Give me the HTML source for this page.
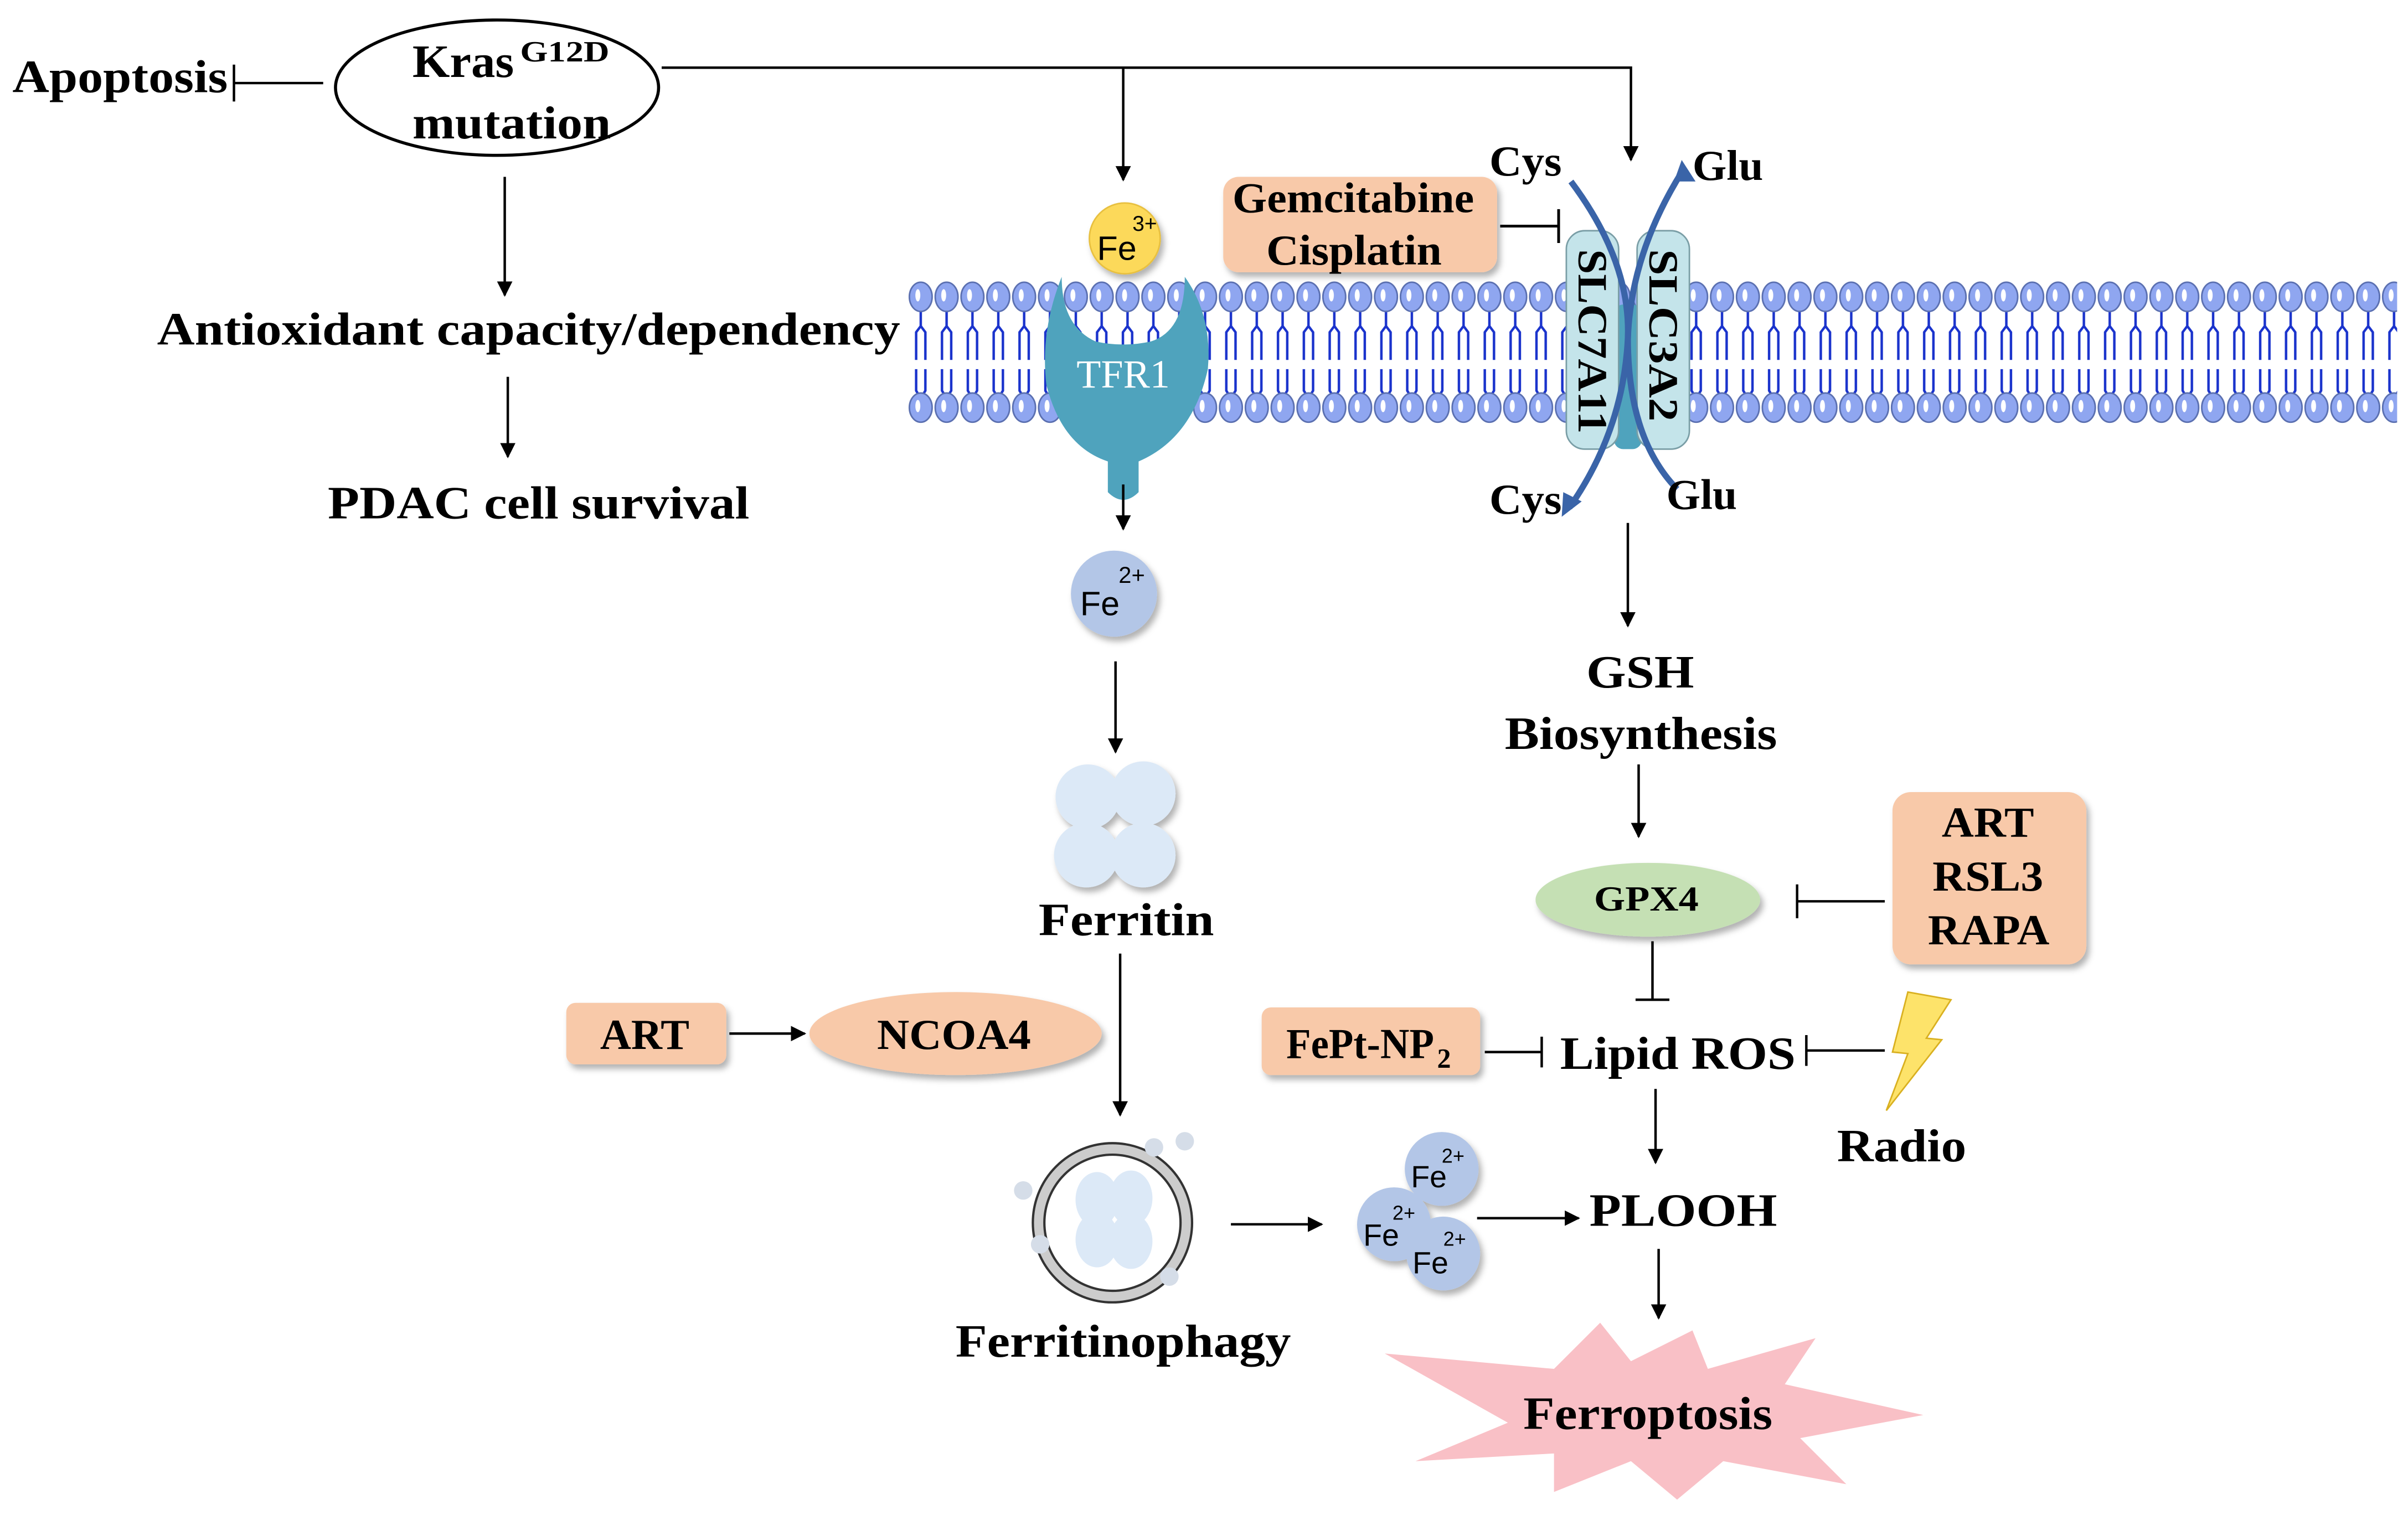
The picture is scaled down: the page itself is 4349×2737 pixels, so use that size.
<!DOCTYPE html>
<html><head><meta charset="utf-8"><style>
html,body{margin:0;padding:0;background:#fff}
svg{display:block}
text{font-family:"Liberation Serif",serif;font-weight:bold;fill:#000}
.s{font-family:"Liberation Sans",sans-serif;font-weight:normal}
</style></head><body>
<svg width="4349" height="2737" viewBox="0 0 1565 985" xmlns="http://www.w3.org/2000/svg">
<defs>
<marker id="a" markerWidth="10" markerHeight="10" refX="9" refY="5" orient="auto" markerUnits="userSpaceOnUse"><path d="M0,0 L10,5 L0,10 Z" fill="#000"/></marker>
<pattern id="mem" x="590" y="0" width="16.8" height="985" patternUnits="userSpaceOnUse">
<path d="M8.4,202 v10 M8.4,212 l-3,4 v18 M8.4,212 l3,4 v18 M5.4,240 v14 l3,5 M11.4,240 v14 l-3,5" stroke="#1a33cc" stroke-width="1.6" fill="none"/>
<ellipse cx="8.4" cy="193" rx="7.4" ry="9.5" fill="#8fa6f0" stroke="#5a6fb0" stroke-width="1"/>
<ellipse cx="6.5" cy="192" rx="1.6" ry="4" fill="#fff"/>
<ellipse cx="8.4" cy="265" rx="7.4" ry="9.5" fill="#8fa6f0" stroke="#5a6fb0" stroke-width="1"/>
<ellipse cx="6.5" cy="264" rx="1.6" ry="4" fill="#fff"/>
</pattern>
<filter id="sh" x="-20%" y="-20%" width="140%" height="140%"><feDropShadow dx="2" dy="3" stdDeviation="2" flood-color="#000" flood-opacity="0.3"/></filter>
</defs>
<g stroke="#000" stroke-width="1.6" fill="none">
<line x1="210" y1="54" x2="152" y2="54"/><line x1="152" y1="42" x2="152" y2="66"/>
<polyline points="430,44 1060,44 1060,104" marker-end="url(#a)"/>
<line x1="730" y1="44" x2="730" y2="117" marker-end="url(#a)"/>
<line x1="328" y1="115" x2="328" y2="192" marker-end="url(#a)"/>
<line x1="330" y1="245" x2="330" y2="297" marker-end="url(#a)"/>
</g>
<ellipse cx="323" cy="57" rx="105" ry="44" fill="#fff" stroke="#000" stroke-width="2"/>
<text x="8" y="60" font-size="30" textLength="140" lengthAdjust="spacingAndGlyphs">Apoptosis</text>
<text x="268" y="50" font-size="30" textLength="66" lengthAdjust="spacingAndGlyphs">Kras</text>
<text x="338" y="40" font-size="19" textLength="58" lengthAdjust="spacingAndGlyphs">G12D</text>
<text x="268" y="90" font-size="30" textLength="129" lengthAdjust="spacingAndGlyphs">mutation</text>
<text x="102" y="224" font-size="30" textLength="483" lengthAdjust="spacingAndGlyphs">Antioxidant capacity/dependency</text>
<text x="213" y="337" font-size="30" textLength="274" lengthAdjust="spacingAndGlyphs">PDAC cell survival</text>
<!-- membrane -->
<rect x="590" y="180" width="968" height="98" fill="url(#mem)"/>
<!-- TFR1 -->
<path d="M690,180 Q676,215 680,250 Q690,290 720,300 L720,320 Q730,330 740,320 L740,300 Q775,285 785,240 Q788,205 770,180 Q770,215 748,222 Q730,226 712,222 Q690,212 690,180 Z" fill="#4fa3bd"/>
<text x="730" y="252" font-size="26" text-anchor="middle" font-weight="normal" style="fill:#fff;font-weight:normal">TFR1</text>
<circle cx="731" cy="155" r="23" fill="#fcd95a" stroke="#e8c040" filter="url(#sh)"/>
<text class="s" x="713" y="169" font-size="22">Fe</text><text class="s" x="736" y="150" font-size="14">3+</text>
<!-- Gemcitabine -->
<rect x="795" y="115" width="178" height="62" rx="10" fill="#f8c9a9" filter="url(#sh)"/>
<text x="801" y="138" font-size="28" textLength="157" lengthAdjust="spacingAndGlyphs">Gemcitabine</text>
<text x="823" y="172" font-size="28" textLength="114" lengthAdjust="spacingAndGlyphs">Cisplatin</text>
<g stroke="#000" stroke-width="1.8"><line x1="975" y1="147" x2="1013" y2="147"/><line x1="1013" y1="136" x2="1013" y2="158"/></g>
<!-- transporter -->
<rect x="1049" y="198" width="18" height="94" rx="6" fill="#4fa3bd"/>
<rect x="1018" y="150" width="34" height="142" rx="12" fill="#c4e4ea" stroke="#7a9ea6"/>
<rect x="1064" y="150" width="34" height="142" rx="12" fill="#c4e4ea" stroke="#7a9ea6"/>
<text x="0" y="0" font-size="27" transform="translate(1026,162) rotate(90)" textLength="120" lengthAdjust="spacingAndGlyphs">SLC7A11</text>
<text x="0" y="0" font-size="27" transform="translate(1072,162) rotate(90)" textLength="112" lengthAdjust="spacingAndGlyphs">SLC3A2</text>
<g stroke="#3a64a8" stroke-width="4" fill="none">
<path d="M1021,118 Q1060,170 1058,220 Q1055,280 1020,330"/>
<path d="M1093,112 Q1060,165 1058,220 Q1058,285 1090,318"/>
</g>
<path d="M1093,104 L1102,118 L1088,118Z" fill="#3a64a8"/>
<path d="M1015,336 L1016,320 L1028,326Z" fill="#3a64a8"/>
<text x="968" y="114" font-size="28" textLength="47" lengthAdjust="spacingAndGlyphs">Cys</text><text x="1100" y="117" font-size="28" textLength="46" lengthAdjust="spacingAndGlyphs">Glu</text>
<text x="968" y="334" font-size="28" textLength="47" lengthAdjust="spacingAndGlyphs">Cys</text><text x="1083" y="331" font-size="28" textLength="46" lengthAdjust="spacingAndGlyphs">Glu</text>
<!-- left column -->
<g stroke="#000" stroke-width="1.6" fill="none">
<line x1="730" y1="315" x2="730" y2="344" marker-end="url(#a)"/>
<line x1="725" y1="430" x2="725" y2="489" marker-end="url(#a)"/>
<line x1="728" y1="620" x2="728" y2="725" marker-end="url(#a)"/>
<line x1="474" y1="672" x2="523" y2="672" marker-end="url(#a)"/>
<line x1="800" y1="796" x2="859" y2="796" marker-end="url(#a)"/>
<line x1="960" y1="792" x2="1026" y2="792" marker-end="url(#a)"/>
<line x1="1058" y1="340" x2="1058" y2="407" marker-end="url(#a)"/>
<line x1="1065" y1="497" x2="1065" y2="544" marker-end="url(#a)"/>
<line x1="1076" y1="708" x2="1076" y2="756" marker-end="url(#a)"/>
<line x1="1078" y1="812" x2="1078" y2="857" marker-end="url(#a)"/>
</g>
<circle cx="724" cy="386" r="28" fill="#b3c6e7" filter="url(#sh)"/>
<text class="s" x="702" y="400" font-size="22">Fe</text><text class="s" x="727" y="379" font-size="15">2+</text>
<g fill="#dce9f7" filter="url(#sh)">
<circle cx="707" cy="518" r="21"/><circle cx="743" cy="516" r="21"/><circle cx="706" cy="556" r="21"/><circle cx="743" cy="556" r="21"/>
</g>
<text x="675" y="608" font-size="30" textLength="114" lengthAdjust="spacingAndGlyphs">Ferritin</text>
<rect x="368" y="652" width="104" height="40" rx="6" fill="#f8c9a9" filter="url(#sh)"/>
<text x="390" y="682" font-size="28" textLength="58" lengthAdjust="spacingAndGlyphs">ART</text>
<ellipse cx="621" cy="672" rx="95" ry="27" fill="#f8c9a9" filter="url(#sh)"/>
<text x="570" y="682" font-size="28" textLength="100" lengthAdjust="spacingAndGlyphs">NCOA4</text>
<circle cx="723" cy="795" r="48" fill="none" stroke="#333" stroke-width="9"/>
<circle cx="723" cy="795" r="48" fill="none" stroke="#ccc" stroke-width="6"/>
<g fill="#dce9f7"><ellipse cx="713" cy="780" rx="14" ry="18"/><ellipse cx="735" cy="779" rx="14" ry="18"/><ellipse cx="713" cy="806" rx="14" ry="18"/><ellipse cx="735" cy="807" rx="14" ry="18"/></g>
<g fill="#d5dde8"><circle cx="750" cy="746" r="6"/><circle cx="770" cy="742" r="6"/><circle cx="665" cy="774" r="6"/><circle cx="676" cy="809" r="6"/><circle cx="760" cy="830" r="6"/></g>
<text x="621" y="882" font-size="30" textLength="218" lengthAdjust="spacingAndGlyphs">Ferritinophagy</text>
<g filter="url(#sh)" fill="#b3c6e7"><circle cx="937" cy="760" r="24"/><circle cx="906" cy="796" r="24"/><circle cx="938" cy="815" r="24"/></g>
<g class="s" font-size="20"><text class="s" x="917" y="772">Fe</text><text class="s" x="937" y="756" font-size="13">2+</text>
<text class="s" x="886" y="810">Fe</text><text class="s" x="905" y="793" font-size="13">2+</text>
<text class="s" x="918" y="828">Fe</text><text class="s" x="938" y="810" font-size="13">2+</text></g>
<!-- right column -->
<text x="1031" y="447" font-size="30" textLength="70" lengthAdjust="spacingAndGlyphs">GSH</text>
<text x="978" y="487" font-size="30" textLength="177" lengthAdjust="spacingAndGlyphs">Biosynthesis</text>
<ellipse cx="1071" cy="585" rx="73" ry="24" fill="#c5e0b4" filter="url(#sh)"/>
<text x="1036" y="592" font-size="23" textLength="68" lengthAdjust="spacingAndGlyphs">GPX4</text>
<rect x="1230" y="515" width="126" height="112" rx="12" fill="#f8c9a9" filter="url(#sh)"/>
<text x="1262" y="544" font-size="28" textLength="60" lengthAdjust="spacingAndGlyphs">ART</text>
<text x="1256" y="579" font-size="28" textLength="72" lengthAdjust="spacingAndGlyphs">RSL3</text>
<text x="1253" y="614" font-size="28" textLength="79" lengthAdjust="spacingAndGlyphs">RAPA</text>
<g stroke="#000" stroke-width="1.6">
<line x1="1225" y1="586" x2="1168" y2="586"/><line x1="1168" y1="575" x2="1168" y2="597"/>
<line x1="1074" y1="612" x2="1074" y2="650"/><line x1="1063" y1="650" x2="1085" y2="650"/>
<line x1="965" y1="684" x2="1002" y2="684"/><line x1="1002" y1="674" x2="1002" y2="694"/>
<line x1="1225" y1="683" x2="1174" y2="683"/><line x1="1174" y1="673" x2="1174" y2="693"/>
</g>
<rect x="820" y="655" width="142" height="44" rx="6" fill="#f8c9a9" filter="url(#sh)"/>
<text x="836" y="688" font-size="28" textLength="96" lengthAdjust="spacingAndGlyphs">FePt-NP</text><text x="934" y="694" font-size="18">2</text>
<text x="1014" y="695" font-size="30" textLength="153" lengthAdjust="spacingAndGlyphs">Lipid ROS</text>
<path d="M1240,645 L1268,650 L1252,675 L1262,676 L1226,722 L1240,685 L1230,684 Z" fill="#fde36a" stroke="#d9b020" stroke-width="1"/>
<text x="1194" y="755" font-size="30" textLength="84" lengthAdjust="spacingAndGlyphs">Radio</text>
<text x="1033" y="797" font-size="30" textLength="122" lengthAdjust="spacingAndGlyphs">PLOOH</text>
<path d="M900,880 L1010,890 L1040,860 L1060,885 L1100,865 L1110,890 L1180,870 L1160,900 L1250,920 L1170,935 L1200,965 L1120,950 L1090,975 L1060,950 L1010,970 L1010,945 L920,950 L980,925 Z" fill="#f9c0c6"/>
<text x="990" y="929" font-size="30" textLength="162" lengthAdjust="spacingAndGlyphs">Ferroptosis</text>
</svg>
</body></html>
